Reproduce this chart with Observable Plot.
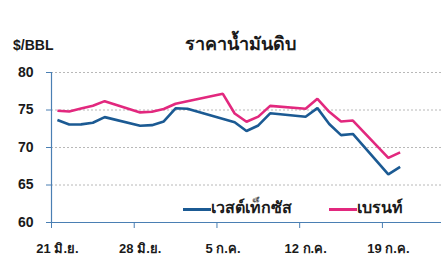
<!DOCTYPE html>
<html><head><meta charset="utf-8">
<script src="https://cdn.jsdelivr.net/npm/d3@7"></script>
<script src="https://cdn.jsdelivr.net/npm/@observablehq/plot@0.6"></script>
<style>
body{margin:0;background:#fff;font-family:"Liberation Sans",Arial,sans-serif;}
#wrap{position:relative;width:441px;height:278px;overflow:hidden;background:#fff}
#unit{position:absolute;left:13px;top:37px;font-weight:bold;font-size:14px;color:#1a1a1a;line-height:16px}
#title{position:absolute;left:0;width:480px;text-align:center;top:33px;font-weight:bold;font-size:18px;color:#1a1a1a;line-height:22px}
#chart{position:absolute;left:0;top:62px}
.sw{position:absolute;height:3px}
.lt{position:absolute;font-weight:bold;font-size:16px;color:#1a1a1a;line-height:18px}
</style></head>
<body>
<div id="wrap">
  <div id="unit"></div>
  <div id="title"></div>
  <div id="chart"></div>
  <div class="sw" id="sw0" style="left:183px;top:208px;width:28px"></div>
  <div class="lt" id="lt0" style="left:211px;top:199px"></div>
  <div class="sw" id="sw1" style="left:329px;top:208px;width:28px"></div>
  <div class="lt" id="lt1" style="left:357px;top:199px"></div>
</div>
<script>
const title = "ราคาน้ำมันดิบ";
const unit = "$/BBL";
const seriesNames = ["เวสต์เท็กซัส", "เบรนท์"];
const seriesColors = ["#1b5a93", "#e2287e"];
const dates = ["2021-06-21","2021-06-22","2021-06-23","2021-06-24","2021-06-25",
  "2021-06-28","2021-06-29","2021-06-30","2021-07-01","2021-07-02",
  "2021-07-05","2021-07-06","2021-07-07","2021-07-08","2021-07-09",
  "2021-07-12","2021-07-13","2021-07-14","2021-07-15","2021-07-16",
  "2021-07-19","2021-07-20"];
const wti = [73.66,73.06,73.08,73.30,74.05,72.91,72.98,73.47,75.23,75.16,
  null,73.37,72.20,72.94,74.56,74.10,75.25,73.13,71.65,71.81,66.42,67.42];
const brent = [74.90,74.81,75.19,75.56,76.18,74.68,74.76,75.13,75.84,76.17,
  77.16,74.53,73.43,74.12,75.55,75.16,76.49,74.76,73.47,73.59,68.62,69.35];
const yTicks = [60,65,70,75,80];
const xTickDates = ["2021-06-21","2021-06-28","2021-07-05","2021-07-12","2021-07-19"];
const xTickLabels = ["21 มิ.ย.","28 มิ.ย.","5 ก.ค.","12 ก.ค.","19 ก.ค."];
const xDomain = ["2021-06-21","2021-07-24"];

document.getElementById("title").textContent = title;
document.getElementById("unit").textContent = unit;
document.getElementById("lt0").textContent = seriesNames[0];
document.getElementById("lt1").textContent = seriesNames[1];
document.getElementById("sw0").style.background = seriesColors[0];
document.getElementById("sw1").style.background = seriesColors[1];

const half = 12 * 3600 * 1000;
const rows = [];
dates.forEach((d, i) => {
  const t = new Date(new Date(d).getTime() + half);
  if (wti[i] != null) rows.push({date: t, value: wti[i], s: seriesNames[0]});
});
dates.forEach((d, i) => {
  const t = new Date(new Date(d).getTime() + half);
  if (brent[i] != null) rows.push({date: t, value: brent[i], s: seriesNames[1]});
});
const tickD = xTickDates.map(d => new Date(d));
const labelOf = new Map(tickD.map((d, i) => [d.getTime(), xTickLabels[i]]));
const axisColor = "#4a7fb3";

const chart = Plot.plot({
  width: 441, height: 216,
  marginTop: 10, marginLeft: 51, marginRight: 0, marginBottom: 56,
  style: {fontFamily: '"Liberation Sans",Arial,sans-serif', background: "transparent"},
  x: {type: "utc", domain: xDomain.map(d => new Date(d))},
  y: {domain: [60, 80]},
  marks: [
    Plot.gridY(yTicks.filter(v => v > 60), {stroke: "#b8b8b8", strokeOpacity: 1, strokeDasharray: "2,2"}),
    Plot.ruleY([60], {stroke: axisColor, strokeWidth: 1.2}),
    Plot.ruleX([new Date(xDomain[0])], {y1: 60, y2: 80, stroke: axisColor, strokeWidth: 1.2}),
    Plot.axisY(yTicks, {tickSize: 5, tickPadding: 13, stroke: axisColor, fill: "#1a1a1a",
      fontSize: 14, fontWeight: "bold", label: null}),
    Plot.axisX(tickD, {tickSize: 6, stroke: axisColor, tickFormat: () => "", label: null}),
    Plot.axisX(tickD, {tickSize: 0, tickPadding: 21, dx: 6, fill: "#1a1a1a", fontSize: 13,
      fontWeight: "bold", tickFormat: d => labelOf.get(d.getTime()), label: null}),
    Plot.line(rows, {x: "date", y: "value", z: "s",
      stroke: d => d.s === seriesNames[0] ? seriesColors[0] : seriesColors[1],
      strokeWidth: 2.6, strokeLinejoin: "miter", strokeLinecap: "butt"})
  ]
});
document.getElementById("chart").appendChild(chart);
</script>
</body></html>
